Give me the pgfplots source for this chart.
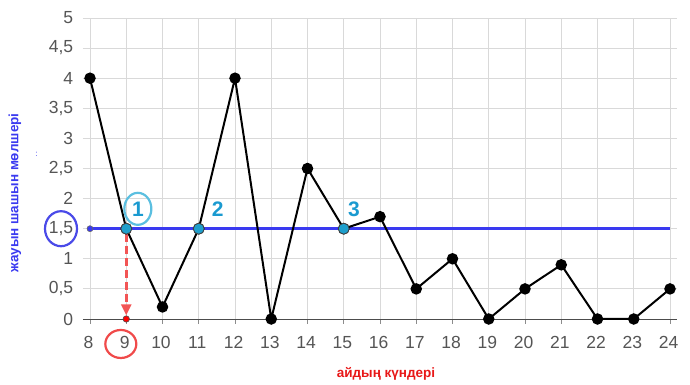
\documentclass[border=0pt]{standalone}
\usepackage{fontspec}
\setmainfont{Liberation Sans}
\usepackage{pgfplots}
\pgfplotsset{compat=1.18}
\usetikzlibrary{arrows.meta}
\definecolor{tickgray}{HTML}{555555}
\definecolor{gridgray}{HTML}{D9D9D9}
\definecolor{ptcyan}{HTML}{1E9FCC}
\definecolor{lblcyan}{HTML}{1A9AD0}
\definecolor{ringcyan}{HTML}{5BBFE0}
\definecolor{hblue}{HTML}{3A3AF0}
\definecolor{ringblue}{HTML}{4A4AE8}
\definecolor{ringred}{HTML}{F04A4A}
\definecolor{arrred}{HTML}{F25555}
\definecolor{labelred}{HTML}{E81818}
\begin{document}
\begin{tikzpicture}[x=1pt,y=1pt]
\path[use as bounding box] (0,0) rectangle (690,385);
\begin{axis}[
  at={(82.75pt,66pt)}, anchor=south west, scale only axis,
  width=594.5pt, height=301pt,
  xmin=7.8, xmax=24.2, ymin=0, ymax=5,
  xtick={8,...,24}, ytick={0,0.5,...,5},
  yticklabels={0,{0,5},1,{1,5},2,{2,5},3,{3,5},4,{4,5},5},
  grid=major, major grid style={gridgray, line width=0.9pt},
  axis x line*=bottom, axis y line*=left,
  axis line style={-},
  x axis line style={draw=black!70, line width=0.9pt},
  y axis line style={draw=none},
  xtick style={draw=black!45, line width=0.9pt},
  ytick style={draw=none},
  tick align=outside, major tick length=5pt,
  ticklabel style={font=\fontsize{17.5}{17.5}\selectfont, text=tickgray},
  xticklabel style={yshift=-9pt, xshift=-1.5pt},
  yticklabel style={xshift=-1pt},
  /pgf/number format/assume math mode=true,
  clip=false,
]
\addplot[hblue, line width=2.8pt] coordinates {(8,1.5) (24,1.5)};
\addplot[black, line width=2pt, mark=*, mark size=4.7pt] coordinates {
  (8,4) (9,1.5) (10,0.2) (11,1.5) (12,4) (13,0) (14,2.5) (15,1.5) (16,1.7)
  (17,0.5) (18,1) (19,0) (20,0.5) (21,0.9) (22,0) (23,0) (24,0.5)};
\addplot[only marks, mark=*, mark size=3pt, mark options={fill=hblue, draw=black!60, line width=0.6pt}] coordinates {(8,1.5)};
\draw[arrred, line width=2.6pt, dash pattern=on 8pt off 4pt, -{Triangle[length=11pt,width=10pt]}] (axis cs:9,1.42) -- (axis cs:9,0.06);
\addplot[only marks, mark=*, mark size=3.2pt, mark options={fill=red, draw=black!70, line width=0.6pt}] coordinates {(9,0)};
\addplot[only marks, mark=*, mark size=5.5pt, mark options={fill=ptcyan, draw=black!75, line width=0.9pt}] coordinates {(9,1.5) (11,1.5) (15,1.5)};
\node[text=lblcyan, font=\bfseries\fontsize{21}{21}\selectfont] at (axis cs:9.32,1.83) {1};
\draw[ringcyan, line width=2.2pt] (axis cs:9.32,1.83) ellipse [x radius=13.5pt, y radius=16pt];
\node[text=lblcyan, font=\bfseries\fontsize{21}{21}\selectfont] at (axis cs:11.52,1.83) {2};
\node[text=lblcyan, font=\bfseries\fontsize{21}{21}\selectfont] at (axis cs:15.28,1.83) {3};
\draw[ringblue, line width=2.2pt] (axis cs:7.2,1.5) ellipse [x radius=16pt, y radius=17.5pt];
\draw[ringred, line width=2.2pt] (axis cs:8.85,-0.415) ellipse [x radius=15.5pt, y radius=14pt];
\end{axis}
\node[rotate=90, text=hblue, font=\bfseries\fontsize{13.5}{13.5}\selectfont] at (15,192) {жауын шашын мөлшері};
\node[text=hblue, font=\fontsize{8}{8}\selectfont] at (36.5,231) {:};
\node[text=labelred, font=\bfseries\fontsize{13.5}{13.5}\selectfont] at (386,11) {айдың күндері};
\end{tikzpicture}
\end{document}
